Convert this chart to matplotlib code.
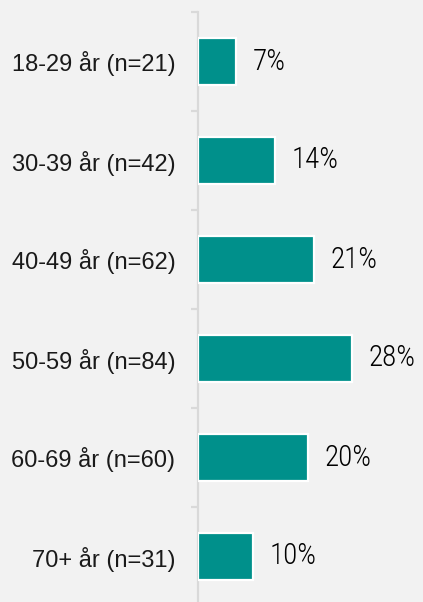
import matplotlib
matplotlib.use("Agg")
import matplotlib.pyplot as plt
from matplotlib.ticker import FixedLocator

categories = ["18-29 år (n=21)", "30-39 år (n=42)", "40-49 år (n=62)",
              "50-59 år (n=84)", "60-69 år (n=60)", "70+ år (n=31)"]
values = [7, 14, 21, 28, 20, 10]
value_labels = ["7%", "14%", "21%", "28%", "20%", "10%"]

W, H = 423, 602
fig = plt.figure(figsize=(W / 100, H / 100), dpi=100, facecolor="#f2f2f2")
ax = fig.add_axes([197.5 / W, -4 / H, (W - 197.5) / W, 594 / H])
ax.set_facecolor("#f2f2f2")

y = list(range(len(categories)))
ax.barh(y, values, height=0.48, color="#00908b", edgecolor="white", linewidth=1.6, zorder=3)

for yi, v, lab in zip(y, values, value_labels):
    ax.annotate(lab, xy=(v, yi), xytext=(12, 0), textcoords="offset points",
                va="center", ha="left", fontsize=21,
                family=["Roboto Condensed", "Liberation Sans Narrow", "Roboto"],
                fontweight=300, color="#000000")

ax.set_xlim(0, (W - 198.5) / 5.5)
ax.set_ylim(len(categories) - 0.5, -0.5)

for s in ["top", "right", "bottom"]:
    ax.spines[s].set_visible(False)
ax.spines["left"].set_color("#d9d9d9")
ax.spines["left"].set_linewidth(1.6)
ax.set_xticks([])

ax.set_yticks(y)
ax.set_yticklabels(categories, fontsize=17, family="Liberation Sans", color="#1a1a1a")
ax.tick_params(axis="y", which="major", length=0, pad=16)
ax.yaxis.set_minor_locator(FixedLocator([k - 0.5 for k in range(len(categories) + 1)]))
ax.tick_params(axis="y", which="minor", length=5, width=1.6, color="#d9d9d9")

fig.savefig("out.png", dpi=100, facecolor=fig.get_facecolor())
